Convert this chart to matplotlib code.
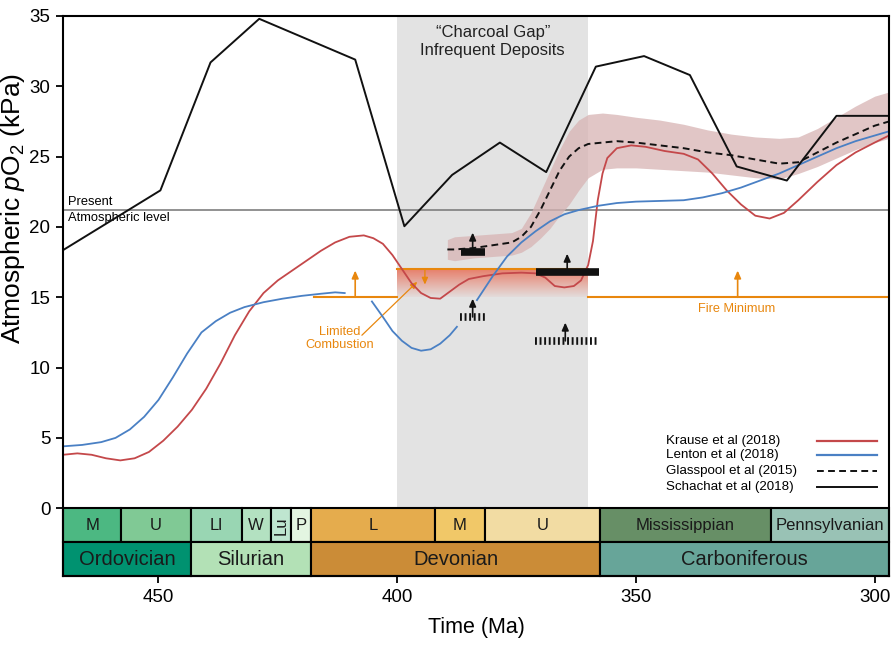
import numpy as np
import matplotlib.pyplot as plt
from matplotlib.patches import Rectangle

plt.rcParams['font.family'] = ['Liberation Sans', 'DejaVu Sans']
plt.rcParams['mathtext.fontset'] = 'custom'
plt.rcParams['mathtext.rm'] = 'Liberation Sans'
plt.rcParams['mathtext.it'] = 'Liberation Sans:italic'

# ---- data (Ma, kPa) ----
krause_t = [470, 467, 464, 461, 458, 455, 452, 449, 446, 443, 440, 437, 434, 431, 428, 425,
            422, 419, 416, 413, 410, 407, 405, 403, 401, 399, 397, 395, 393, 391, 389, 387,
            385, 382, 378, 374, 371, 369, 367, 365, 363, 361.5, 360, 359, 358, 357, 356, 354,
            351, 348, 344, 340, 337, 334, 331, 328, 325, 322, 319, 316, 312, 308, 304, 300, 297]
krause_o2 = [3.8, 3.9, 3.8, 3.55, 3.4, 3.55, 4.0, 4.8, 5.8, 7.0, 8.5, 10.3, 12.3, 14.0, 15.3, 16.2,
             16.9, 17.6, 18.3, 18.9, 19.3, 19.4, 19.2, 18.8, 18.0, 17.0, 16.0, 15.3, 14.95, 14.9, 15.4, 15.9,
             16.3, 16.5, 16.7, 16.75, 16.7, 16.4, 15.8, 15.7, 15.8, 16.2, 17.3, 19.0, 21.9, 23.8, 24.9, 25.6,
             25.8, 25.7, 25.4, 25.2, 24.8, 23.8, 22.6, 21.6, 20.8, 20.6, 21.0, 21.9, 23.2, 24.4, 25.3, 26.0, 26.5]

# Lenton curve is broken where the constraint arrows sit
lenton_t = [470, 466, 462, 459, 456, 453, 450, 447, 444, 441, 438, 435, 432, 428, 424, 420, 416, 413, 411,
            np.nan,
            405.3, 403, 401, 399, 397, 395, 393, 391, 389, 387.5,
            np.nan,
            383.3, 380, 377, 374, 371, 368, 365, 362, 358, 354, 350, 345, 340, 336, 332, 328, 324,
            320, 316, 312, 308, 304, 300, 297]
lenton_o2 = [4.4, 4.5, 4.7, 5.0, 5.6, 6.5, 7.7, 9.3, 11.0, 12.5, 13.3, 13.9, 14.3, 14.65, 14.9, 15.1, 15.25, 15.35, 15.3,
             np.nan,
             14.7, 13.6, 12.6, 11.9, 11.4, 11.2, 11.3, 11.7, 12.3, 12.9,
             np.nan,
             14.8, 16.5, 17.9, 18.9, 19.7, 20.4, 20.9, 21.2, 21.5, 21.7, 21.8, 21.85, 21.9, 22.1, 22.4, 22.8, 23.3,
             23.8, 24.4, 25.0, 25.6, 26.1, 26.5, 26.8]

glass_t = [389.5, 388, 384, 380, 376, 374, 372, 370, 368, 366, 364, 362, 360, 357, 354, 350,
           345, 340, 335, 330, 325, 320, 316, 312, 308, 304, 300, 297]
glass_o2 = [18.4, 18.4, 18.5, 18.7, 18.9, 19.3, 20.0, 21.2, 22.6, 24.0, 25.0, 25.6, 25.9, 26.0, 26.1, 26.0,
            25.8, 25.6, 25.3, 25.1, 24.8, 24.5, 24.6, 25.3, 26.0, 26.6, 27.2, 27.5]
glass_hi = [19.1, 19.3, 19.4, 19.5, 19.6, 19.9, 21.0, 22.5, 24.0, 25.5, 26.8, 27.6, 28.0, 28.1, 28.0, 27.8,
            27.6, 27.3, 26.9, 26.6, 26.4, 26.3, 26.4, 27.0, 27.8, 28.6, 29.3, 29.6]
glass_lo = [17.7, 17.6, 17.8, 17.9, 18.0, 18.2, 18.6, 19.2, 19.9, 20.8, 21.6, 22.6, 23.5, 24.1, 24.2, 24.2,
            24.1, 24.0, 23.9, 23.7, 23.5, 23.4, 23.8, 24.3, 24.9, 25.5, 26.0, 26.3]

schachat_t = [470, 449.6, 439.1, 428.9, 408.8, 398.5, 388.5, 378.5, 368.8, 358.4, 348.3, 338.7,
              328.9, 318.4, 308.0, 297]
schachat_o2 = [18.35, 22.6, 31.7, 34.8, 31.9, 20.05, 23.7, 26.0, 23.9, 31.4, 32.15, 30.8,
               24.3, 23.3, 27.9, 27.9]

present_level = 21.2
fire_min = 15.0
gap_start, gap_end = 400, 360
gap_fire_level = 17.0
fire_segments = [(417.4, 400), (360, 297)]
fire_up_arrows = [(408.8, 15.0, 16.9), (328.7, 15.0, 16.9)]
fire_down_arrow = (394.2, 17.0, 15.9)

# charcoal constraints: (start, end, level, arrow at, arrow top, solid?)
constraints = [(386.7, 381.6, 18.25, 384.2, 19.6, True),
               (371.0, 357.7, 16.8, 364.4, 18.1, True),
               (386.8, 381.6, 13.6, 384.2, 14.9, False),
               (371.1, 357.7, 11.9, 364.8, 13.2, False)]

# geologic timescale (Ma), boundaries as drawn in the figure
epochs = ['M', 'U', 'Ll', 'W', 'Lu', 'P', 'L', 'M', 'U', 'Mississippian', 'Pennsylvanian']
epoch_bounds = [470, 457.8, 443.2, 432.6, 426.5, 422.2, 418.1, 392.1, 381.6, 357.5, 321.7, 297]
epoch_colors = ['#4cb882', '#80c995', '#99d6b3', '#b3e1c1', '#bfe6d0', '#e3f5e1',
                '#e5ac4d', '#f1c868', '#f2dca3', '#678f66', '#99c2b5']
periods = ['Ordovician', 'Silurian', 'Devonian', 'Carboniferous']
period_bounds = [470, 443.2, 418.1, 357.5, 297]
period_colors = ['#009270', '#b3e1b6', '#cb8c37', '#67a599']

red = '#c4484a'
blue = '#4a80c4'
orange = '#e8870e'
ink = '#111111'

fig = plt.figure(figsize=(8.92, 6.46), dpi=100)
ax = fig.add_axes([63 / 892, 1 - 576 / 646, 826 / 892, 560 / 646])

# charcoal gap shading
ax.axvspan(gap_start, gap_end, ymin=4.82 / 39.82, ymax=1, color='#e3e3e3', lw=0, zorder=0)
ax.text((gap_start + gap_end) / 2, 33.2, '\u201cCharcoal Gap\u201d\nInfrequent Deposits',
        ha='center', va='center', fontsize=12, color='#222222', linespacing=1.2)

# present level
ax.axhline(present_level, color='#7f7f7f', lw=1.2, zorder=1)
ax.text(469.0, present_level + 0.12, 'Present', fontsize=9.3, va='bottom', ha='left')
ax.text(469.0, present_level - 0.12, 'Atmospheric level', fontsize=9.3, va='top', ha='left')

# red gradient under limited combustion zone
grad = np.zeros((100, 1, 4))
grad[:, 0, 0] = 0.91
grad[:, 0, 1] = 0.44
grad[:, 0, 2] = 0.35
grad[:, 0, 3] = np.linspace(0.9, 0.06, 100)
ax.imshow(grad, extent=(gap_start, gap_end, fire_min, gap_fire_level), aspect='auto',
          origin='upper', zorder=1, interpolation='bilinear')

# fire minimum lines
for a, b in fire_segments:
    ax.plot([a, b], [fire_min, fire_min], color=orange, lw=1.5, zorder=2)
ax.plot([gap_start, gap_end], [gap_fire_level, gap_fire_level], color=orange, lw=1.5, zorder=2)
for x, y0, y1 in fire_up_arrows:
    ax.annotate('', xy=(x, y1), xytext=(x, y0),
                arrowprops=dict(arrowstyle='-|>,head_width=0.2,head_length=0.45', color=orange, lw=1.2,
                                shrinkA=0, shrinkB=0))
ax.annotate('', xy=(fire_down_arrow[0], fire_down_arrow[2]), xytext=(fire_down_arrow[0], fire_down_arrow[1]),
            arrowprops=dict(arrowstyle='-|>,head_width=0.18,head_length=0.4', color=orange, lw=1.0,
                            shrinkA=0, shrinkB=0))
ax.annotate('', xy=(395.8, 16.1), xytext=(407.4, 12.3),
            arrowprops=dict(arrowstyle='-|>,head_width=0.18,head_length=0.4', color=orange, lw=0.9,
                            shrinkA=0, shrinkB=0))
ax.text(412.0, 12.05, 'Limited\nCombustion', ha='center', va='center', fontsize=9.3, color=orange,
        linespacing=1.15)
ax.text(328.9, 14.15, 'Fire Minimum', ha='center', va='center', fontsize=9.2, color=orange)

# Glasspool band and curve
ax.fill_between(glass_t, glass_lo, glass_hi, color='#d7b4b4', alpha=0.75, lw=0, zorder=2)
ax.plot(glass_t, glass_o2, color=ink, lw=1.4, ls=(0, (3.5, 2.2)), zorder=4)

ax.plot(krause_t, krause_o2, color=red, lw=1.3, zorder=3)
ax.plot(lenton_t, lenton_o2, color=blue, lw=1.3, zorder=3)
ax.plot(schachat_t, schachat_o2, color=ink, lw=1.4, zorder=4)

# charcoal constraints
for a, b, lev, xa, top, solid in constraints:
    if solid:
        ax.plot([a, b], [lev, lev], color=ink, lw=5.5, solid_capstyle='butt', zorder=5)
    else:
        ax.plot([a, b], [lev, lev], color=ink, lw=5.5, ls=(0, (0.25, 0.35)),
                dash_capstyle='butt', zorder=5)
    ax.annotate('', xy=(xa, top), xytext=(xa, lev),
                arrowprops=dict(arrowstyle='-|>,head_width=0.2,head_length=0.45', color=ink,
                                lw=1.2, shrinkA=0, shrinkB=0), zorder=6)

# timescale
row1, row2, bottom = 0, -2.42, -4.82
for name, a, b, c in zip(epochs, epoch_bounds[:-1], epoch_bounds[1:], epoch_colors):
    ax.add_patch(Rectangle((b, row2), a - b, row1 - row2, facecolor=c, edgecolor='black', lw=1.5, zorder=7,
                           clip_on=False))
    rot = 90 if name == 'Lu' else 0
    ax.text((a + b) / 2, (row1 + row2) / 2, name, ha='center', va='center', fontsize=12,
            rotation=rot, zorder=8, color='#1a1a1a')
for name, a, b, c in zip(periods, period_bounds[:-1], period_bounds[1:], period_colors):
    ax.add_patch(Rectangle((b, bottom), a - b, row2 - bottom, facecolor=c, edgecolor='black', lw=1.5, zorder=7,
                           clip_on=False))
    ax.text((a + b) / 2, (row2 + bottom) / 2, name, ha='center', va='center', fontsize=14.5, zorder=8,
            color='#1a1a1a')

ax.set_xlim(470, 297)
ax.set_ylim(bottom, 35)
ax.set_yticks(np.arange(0, 36, 5))
ax.set_xticks([450, 400, 350, 300])
ax.tick_params(labelsize=13.5, length=5, width=1.3, direction='out', pad=4)
for s in ax.spines.values():
    s.set_linewidth(1.5)
    s.set_zorder(9)
ax.set_xlabel('Time (Ma)', fontsize=15.5, labelpad=8)
ax.set_ylabel(r'Atmospheric $\mathit{p}$O$_2$ (kPa)', fontsize=19)
ax.yaxis.set_label_coords(-36 / 826, (576 - 208) / 560)

# legend: labels on the left, line samples on the right
legend_labels = ['Krause et al (2018)', 'Lenton et al (2018)', 'Glasspool et al (2015)', 'Schachat et al (2018)']
legend_styles = [dict(color=red, lw=1.6), dict(color=blue, lw=1.6),
                 dict(color=ink, lw=1.4, ls=(0, (3.5, 2.2))), dict(color=ink, lw=1.4)]
legend_rows = [0.2416, 0.2152, 0.1875, 0.1598]
for lab, sty, yy in zip(legend_labels, legend_styles, legend_rows):
    ax.text(0.7297, yy, lab, transform=ax.transAxes, fontsize=9.6, va='center', ha='left')
    ax.plot([0.9125, 0.985], [yy, yy], transform=ax.transAxes, **sty)

fig.savefig('out.png', dpi=100)
